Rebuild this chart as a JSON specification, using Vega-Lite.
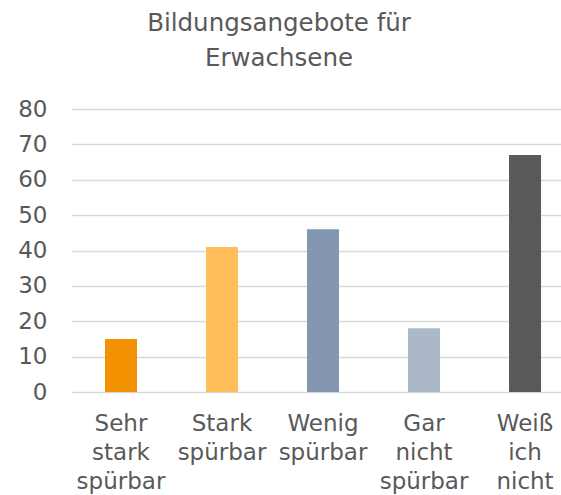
{
  "$schema": "https://vega.github.io/schema/vega-lite/v6.json",
  "autosize": {"type": "none"},
  "padding": {"left": 71, "top": 109, "right": 0, "bottom": 103},
  "width": 490,
  "height": 283,
  "background": "white",
  "config": {
    "view": {"stroke": null},
    "font": "DejaVu Sans"
  },
  "title": {
    "text": ["Bildungsangebote für", "Erwachsene"],
    "fontSize": 24.5,
    "fontWeight": "normal",
    "color": "#595959",
    "font": "DejaVu Sans",
    "anchor": "middle",
    "frame": "group",
    "dx": -37,
    "lineHeight": 35,
    "offset": 27
  },
  "data": {
    "values": [
      {"kategorie": "Sehr|stark|spürbar", "wert": 15, "farbe": "#F39200"},
      {"kategorie": "Stark|spürbar", "wert": 41, "farbe": "#FFBE5A"},
      {"kategorie": "Wenig|spürbar", "wert": 46, "farbe": "#8497B0"},
      {"kategorie": "Gar|nicht|spürbar", "wert": 18, "farbe": "#ACB8CA"},
      {"kategorie": "Weiß|ich|nicht", "wert": 67, "farbe": "#595959"}
    ]
  },
  "mark": {"type": "bar"},
  "encoding": {
    "x": {
      "field": "kategorie",
      "type": "nominal",
      "sort": null,
      "scale": {"paddingInner": 0.683, "paddingOuter": 0.267, "align": 0.63},
      "axis": {
        "title": null,
        "domain": false,
        "ticks": false,
        "labelAngle": 0,
        "labelAlign": "center",
        "labelBaseline": "top",
        "labelExpr": "split(datum.label, '|')",
        "labelFontSize": 23,
        "labelColor": "#595959",
        "labelLineHeight": 29,
        "labelPadding": 20,
        "labelFont": "DejaVu Sans"
      }
    },
    "y": {
      "field": "wert",
      "type": "quantitative",
      "scale": {"domain": [0, 80], "nice": false},
      "axis": {
        "title": null,
        "values": [0, 10, 20, 30, 40, 50, 60, 70, 80],
        "domain": false,
        "ticks": false,
        "grid": true,
        "gridColor": "#D9D9D9",
        "gridWidth": 1.3,
        "labelFontSize": 23,
        "labelColor": "#595959",
        "labelPadding": 24,
        "labelFont": "DejaVu Sans"
      }
    },
    "color": {"field": "farbe", "type": "nominal", "scale": null, "legend": null}
  }
}
